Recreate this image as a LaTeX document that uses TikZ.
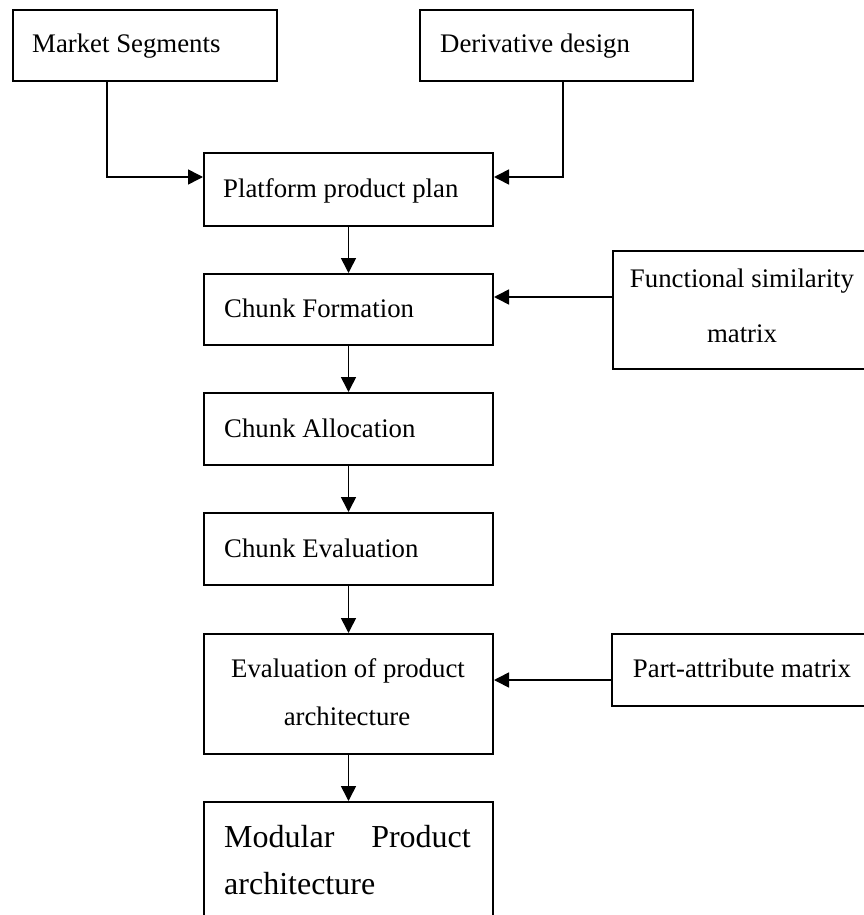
\documentclass[tikz,border=0pt]{standalone}
\usepackage{fontspec}
\setmainfont{Liberation Serif}
\usetikzlibrary{arrows.meta}
\tikzset{
  boxstyle/.style={draw=black, line width=2pt, inner sep=0pt, fill=none},
  lbl/.style={inner sep=0pt, font=\fontsize{26.8}{30}\selectfont},
  biglbl/.style={inner sep=0pt, font=\fontsize{32}{36}\selectfont},
  conn/.style={line width=1.6pt},
  arr/.style={conn, -{Triangle[length=15pt,width=15pt]}}
}
\begin{document}
\begin{tikzpicture}[x=1pt,y=-1pt]
\clip (0,0) rectangle (864,915);
\fill[white] (0,0) rectangle (864,915);
% boxes
\node[boxstyle, minimum width=264pt, minimum height=71pt, anchor=north west] (ms) at (12,9) {};
\node[boxstyle, minimum width=273pt, minimum height=71pt, anchor=north west] (dd) at (419,9) {};
\node[boxstyle, minimum width=289pt, minimum height=73pt, anchor=north west] (pp) at (203,152) {};
\node[boxstyle, minimum width=289pt, minimum height=71pt, anchor=north west] (cf) at (203,273) {};
\node[boxstyle, minimum width=289pt, minimum height=72pt, anchor=north west] (ca) at (203,392) {};
\node[boxstyle, minimum width=289pt, minimum height=72pt, anchor=north west] (ce) at (203,512) {};
\node[boxstyle, minimum width=289pt, minimum height=120pt, anchor=north west] (ep) at (203,633) {};
\node[boxstyle, minimum width=289pt, minimum height=150pt, anchor=north west] (mp) at (203,801) {};
\node[boxstyle, minimum width=270pt, minimum height=118pt, anchor=north west] (fs) at (612,250) {};
\node[boxstyle, minimum width=270pt, minimum height=72pt, anchor=north west] (pa) at (611,633) {};
% texts
\node[lbl, anchor=base west] (tms) at (32,53) {Market Segments};
\node[lbl, anchor=base west] (tdd) at (440,53) {Derivative design};
\node[lbl, anchor=base west] (tpp) at (223,197) {Platform product plan};
\node[lbl, anchor=base west] (tcf) at (224,317) {Chunk Formation};
\node[lbl, anchor=base west] (tca) at (224,437) {Chunk Allocation};
\node[lbl, anchor=base west] (tce) at (224,557) {Chunk Evaluation};
\node[lbl, anchor=base] (tfs1) at (742,287) {Functional similarity};
\node[lbl, anchor=base] (tfs2) at (742,342) {matrix};
\node[lbl, anchor=base] (tep1) at (348,677) {Evaluation of product};
\node[lbl, anchor=base] (tep2) at (347,725) {architecture};
\node[lbl, anchor=base] (tpa) at (742,677) {Part-attribute matrix};
\node[biglbl, anchor=base west] (tmp1) at (224,847) {Modular};
\node[biglbl, anchor=base east] (tmp2) at (471,847) {Product};
\node[biglbl, anchor=base west] (tmp3) at (224,894) {architecture};
% connectors
\coordinate (msbend) at (107,177);
\coordinate (ddbend) at (563,177);
\coordinate (fsin) at (612,297);
\coordinate (pain) at (611,680);
\draw[arr] (ms.south -| msbend) |- (pp.west |- msbend);
\draw[arr] (dd.south -| ddbend) |- (pp.east |- ddbend);
\draw[arr] (pp.south) -- (cf.north);
\draw[arr] (cf.south) -- (ca.north);
\draw[arr] (ca.south) -- (ce.north);
\draw[arr] (ce.south) -- (ep.north);
\draw[arr] (ep.south) -- (mp.north);
\draw[arr] (fs.west |- fsin) -- (cf.east |- fsin);
\draw[arr] (pa.west |- pain) -- (ep.east |- pain);
\end{tikzpicture}
\end{document}
